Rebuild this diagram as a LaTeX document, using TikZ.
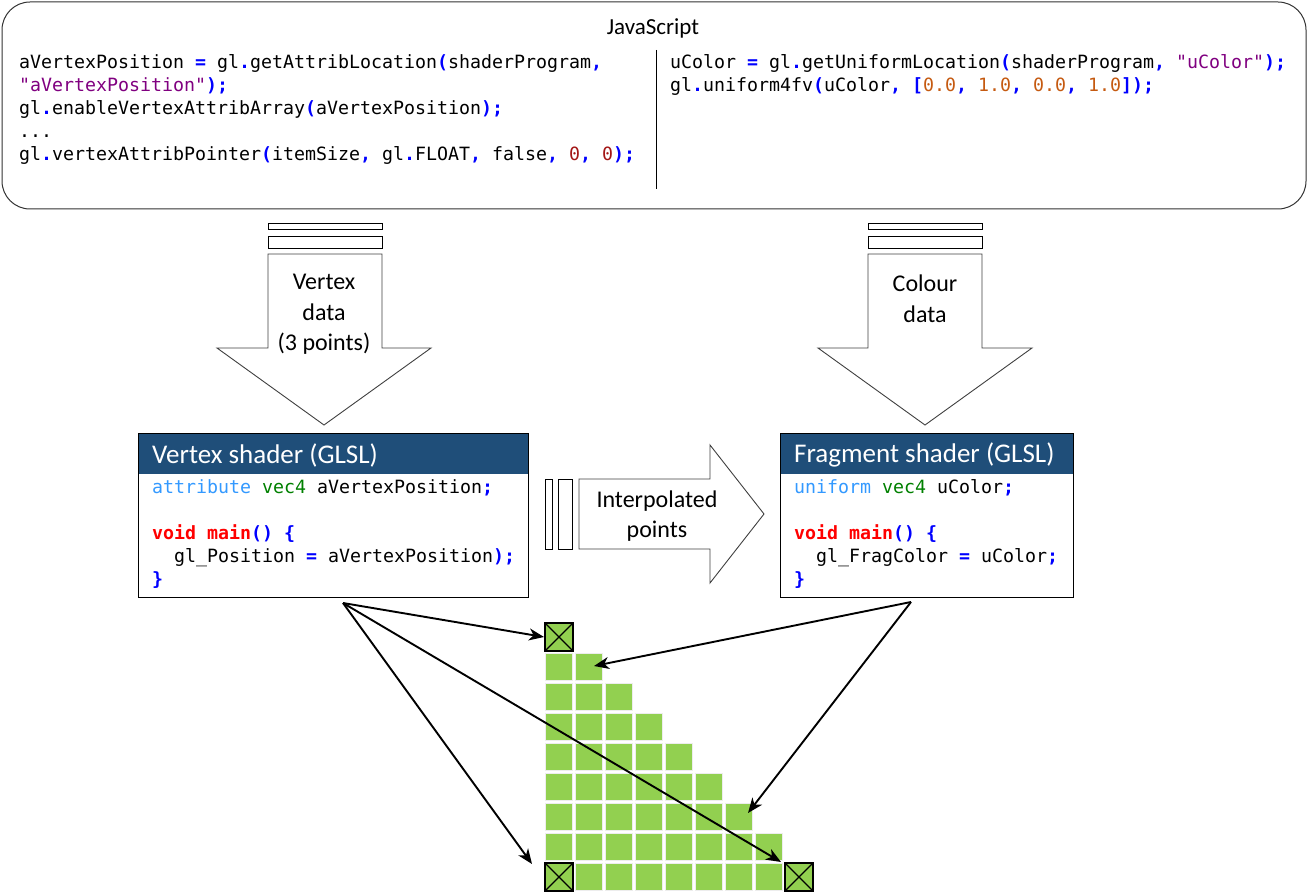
\documentclass[tikz,border=0pt]{standalone}
\usepackage{fontspec}
\setmainfont{Carlito}
\setmonofont{DejaVu Sans Mono}
\usetikzlibrary{arrows.meta}
\definecolor{cpunctc}{HTML}{0000FF}
\definecolor{cstrc}{HTML}{800080}
\definecolor{cnumc}{HTML}{A31515}
\definecolor{conumc}{HTML}{C55A11}
\definecolor{ckwc}{HTML}{3399FF}
\definecolor{ctypec}{HTML}{008000}
\definecolor{cvoidc}{HTML}{FF0000}
\definecolor{headc}{HTML}{1F4E79}
\definecolor{cellc}{HTML}{92D050}
\definecolor{celledge}{HTML}{EDEDED}
\newcommand\cpu[1]{\textcolor{cpunctc}{\bfseries #1}}
\newcommand\cstr[1]{\textcolor{cstrc}{#1}}
\newcommand\cnum[1]{\textcolor{cnumc}{#1}}
\newcommand\conum[1]{\textcolor{conumc}{#1}}
\newcommand\ckw[1]{\textcolor{ckwc}{#1}}
\newcommand\ctype[1]{\textcolor{ctypec}{#1}}
\newcommand\cvoid[1]{\textcolor{cvoidc}{\bfseries #1}}
\tikzset{
  code/.style={font=\ttfamily\fontsize{18.27}{23}\selectfont, anchor=base west, inner sep=0pt},
  label/.style={font=\fontsize{24}{30.5}\selectfont, align=center, inner sep=0pt},
  title/.style={font=\fontsize{27}{32}\selectfont, text=white, anchor=west, inner sep=0pt},
  bigarrow/.style={draw=black!75, line width=0.9pt, fill=white, line join=miter},
  bar/.style={draw=black, line width=0.9pt, fill=white},
  shaderbox/.style={draw=black, line width=0.9pt, anchor=north west, inner sep=0pt},
  cell/.style={draw=celledge, line width=1pt, fill=cellc, minimum size=27pt, inner sep=0pt},
  xcell/.style={draw=black, line width=1.6pt},
  conn/.style={draw=black, line width=1.9pt, -{Stealth[length=15pt,width=12pt,inset=4.5pt]}},
}
\begin{document}
\begin{tikzpicture}[x=1pt,y=-1pt]
\useasboundingbox (0,0) rectangle (1307,893);
% JavaScript box
\node[draw=black!80, line width=1pt, rounded corners=28pt, minimum width=1304pt, minimum height=207pt, anchor=north west, inner sep=0pt] (js) at (1.5,1.5) {};
\node[font=\fontsize{23}{28}\selectfont, inner sep=0pt] (jstitle) at (653,28) {JavaScript};
\coordinate (divtop) at (656,50);
\coordinate (divbot) at (656,189);
\draw[line width=1pt] (divtop) -- (divbot);
\node[code] (j1) at (19,69) {aVertexPosition \cpu{=} gl\cpu{.}getAttribLocation\cpu{(}shaderProgram\cpu{,}};
\node[code] (j2) at (19,92) {\cstr{"aVertexPosition"}\cpu{);}};
\node[code] (j3) at (19,115) {gl\cpu{.}enableVertexAttribArray\cpu{(}aVertexPosition\cpu{);}};
\node[code] (j4) at (19,138) {...};
\node[code] (j5) at (19,161) {gl\cpu{.}vertexAttribPointer\cpu{(}itemSize\cpu{,} gl\cpu{.}FLOAT\cpu{,} false\cpu{,} \cnum{0}\cpu{,} \cnum{0}\cpu{);}};
\node[code] (k1) at (670,69) {uColor \cpu{=} gl\cpu{.}getUniformLocation\cpu{(}shaderProgram\cpu{,} \cstr{"uColor"}\cpu{);}};
\node[code] (k2) at (670,92) {gl\cpu{.}uniform4fv\cpu{(}uColor\cpu{, [}\conum{0.0}\cpu{,} \conum{1.0}\cpu{,} \conum{0.0}\cpu{,} \conum{1.0}\cpu{]);}};
% vertex data arrow
\draw[bar] (268,223) rectangle (382,229);
\draw[bar] (268,236) rectangle (382,248);
\draw[bigarrow] (268,254) -- (382,254) -- (382,348) -- (431,348) -- (324,425) -- (217,348) -- (268,348) -- cycle;
\node[label] (vdata) at (324,314.5) {Vertex\\data\\(3 points)};
% colour data arrow
\draw[bar] (868,223) rectangle (982,229);
\draw[bar] (868,236) rectangle (982,248);
\draw[bigarrow] (868,254) -- (982,254) -- (982,348) -- (1032,348) -- (925,425) -- (818,348) -- (868,348) -- cycle;
\node[label] (cdata) at (925,299) {Colour\\data};
% interpolated arrow
\draw[bar] (545,479) rectangle (552,549);
\draw[bar] (558,479) rectangle (572,549);
\draw[bigarrow] (579,479) -- (710,479) -- (710,445) -- (764,514) -- (710,583) -- (710,549) -- (579,549) -- cycle;
\node[label] (ipts) at (657,516) {Interpolated\\points};
% vertex shader
\fill[headc] (138,433) rectangle (528,474);
\node[shaderbox, minimum width=390pt, minimum height=164pt] (vs) at (138,433) {};
\node[title] (vstitle) at (152,455) {Vertex shader (GLSL)};
\node[code] (v1) at (152,493) {\ckw{attribute} \ctype{vec4} aVertexPosition\cpu{;}};
\node[code] (v3) at (152,539) {\cvoid{void main}\cpu{() \{}};
\node[code] (v4) at (174,562) {gl\_Position \cpu{=} aVertexPosition\cpu{);}};
\node[code] (v5) at (152,585) {\cpu{\}}};
% fragment shader
\fill[headc] (780,433) rectangle (1073,474);
\node[shaderbox, minimum width=293pt, minimum height=164pt] (fs) at (780,433) {};
\node[title] (fstitle) at (794,455) {Fragment shader (GLSL)};
\node[code] (f1) at (794,493) {\ckw{uniform} \ctype{vec4} uColor\cpu{;}};
\node[code] (f3) at (794,539) {\cvoid{void main}\cpu{() \{}};
\node[code] (f4) at (816,562) {gl\_FragColor \cpu{=} uColor\cpu{;}};
\node[code] (f5) at (794,585) {\cpu{\}}};
% raster
\foreach \r in {0,...,8}{
  \foreach \c in {0,...,\r}{
    \node[cell] (c\r\c) at ({559+30*\c},{637+30*\r}) {};
  }
}
\foreach \n in {c00,c80,c88}{
  \draw[xcell, fill=cellc] (\n.north west) rectangle (\n.south east);
  \draw[black, line width=1.2pt] (\n.north west) -- (\n.south east) (\n.north east) -- (\n.south west);
}
% connectors
\coordinate (vsrc) at (343,603);
\coordinate (fsrc) at (911,602);
\draw[conn] (vsrc) -- ([xshift=-1pt]c00.west);
\draw[conn] (vsrc) -- ([xshift=-13pt,yshift=-1pt]c80.north west);
\draw[conn] (vsrc) -- ([xshift=-4pt,yshift=1pt]c88.north west);
\draw[conn] (fsrc) -- ([xshift=5pt,yshift=1pt]c11.center);
\draw[conn] (fsrc) -- ([xshift=-5pt,yshift=-10pt]c66.north east);
\end{tikzpicture}
\end{document}
